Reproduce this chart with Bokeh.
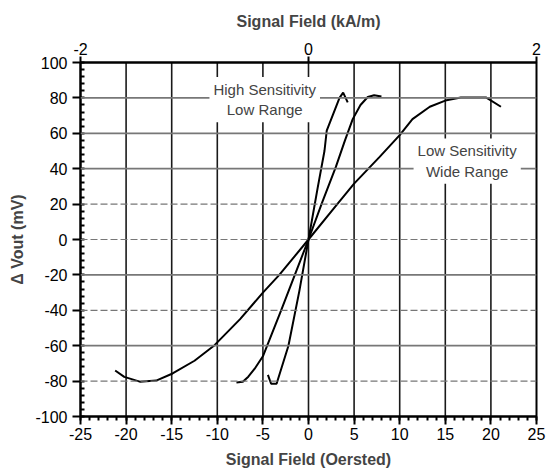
from bokeh.plotting import figure
from bokeh.models import Range1d, LinearAxis, FixedTicker, Span, Label, PrintfTickFormatter
from bokeh.embed import file_html
from bokeh.resources import INLINE

# --- data ---
high_x = [-4.45, -4.1, -3.5, -2.2, -1.0, 0.0, 1.0, 1.75, 2.0, 3.4, 3.8, 4.3]
high_y = [-76.5, -81.5, -81.5, -60.0, -29.0, 0.0, 29.0, 50.0, 61.5, 80.0, 83.0, 77.5]

med_x = [-7.9, -7.2, -6.6, -5.9, -5.0, -4.0, -3.0, -1.5, 0.0, 1.5, 3.0, 4.0, 4.85, 5.7, 6.5, 7.2, 8.0]
med_y = [-80.8, -80.4, -77.5, -73.0, -66.0, -53.0, -40.0, -20.0, 0.0, 21.0, 41.0, 56.0, 68.0, 76.0, 80.5, 81.5, 80.8]

low_x = [-21.2, -20.2, -18.5, -16.7, -14.9, -12.5, -10.3, -7.5, -5.0, -3.2, 0.0, 3.0, 5.0, 7.8, 10.0, 11.4, 13.3, 15.0, 16.7, 19.5, 21.1]
low_y = [-74.0, -77.6, -80.3, -79.7, -75.7, -68.5, -59.7, -45.0, -30.0, -20.0, 0.0, 19.0, 31.6, 46.7, 59.0, 68.0, 75.0, 78.5, 80.2, 80.2, 75.0]

x_ticks = [-25, -20, -15, -10, -5, 0, 5, 10, 15, 20, 25]
y_ticks = [-100, -80, -60, -40, -20, 0, 20, 40, 60, 80, 100]
top_ticks = [-2, 0, 2]
vgrid_vals = [-20, -15, -10, -5, 0, 5, 10, 15, 20]
hgrid_solid = [80, 60, 40, -20, -60]
hgrid_dashed = [20, 0, -40, -80]

FONT = "Liberation Sans"

p = figure(width=547, height=473, x_range=Range1d(-25, 25), y_range=Range1d(-100, 100),
           output_backend="svg", toolbar_location=None,
           min_border_left=80, min_border_right=11, min_border_top=62, min_border_bottom=57)
p.xgrid.visible = False
p.ygrid.visible = False
p.outline_line_color = "black"
p.outline_line_width = 2

# grid lines
for v in vgrid_vals:
    p.add_layout(Span(location=v, dimension="height", line_color="black",
                      line_width=1.6, line_alpha=0.9))
for v in hgrid_solid:
    p.add_layout(Span(location=v, dimension="width", line_color="#777777",
                      line_width=1.8))
for v in hgrid_dashed:
    p.add_layout(Span(location=v, dimension="width", line_color="#777777",
                      line_width=1.2, line_dash="7 3"))

# curves
for xs, ys in [(low_x, low_y), (med_x, med_y), (high_x, high_y)]:
    p.line(xs, ys, line_color="black", line_width=2)

fmt = PrintfTickFormatter(format="%d")

# bottom axis
xa = p.xaxis[0]
xa.ticker = FixedTicker(ticks=x_ticks, minor_ticks=list(range(-25, 26)))
xa.formatter = fmt
xa.axis_label = "Signal Field (Oersted)"
xa.axis_label_text_font = FONT
xa.axis_label_text_font_style = "bold"
xa.axis_label_text_font_size = "16px"
xa.axis_label_standoff = 8
xa.major_label_text_font = FONT
xa.major_label_text_font_size = "16px"
xa.major_label_text_color = "black"
xa.major_label_standoff = 3
xa.axis_line_width = 2
xa.major_tick_out = 8
xa.major_tick_in = 0
xa.minor_tick_out = 4
xa.minor_tick_in = 0
xa.major_tick_line_width = 2
xa.minor_tick_line_width = 2

# left axis
ya = p.yaxis[0]
ya.ticker = FixedTicker(ticks=y_ticks, minor_ticks=list(range(-100, 101, 4)))
ya.formatter = fmt
ya.axis_label = "\u0394 Vout (mV)"
ya.axis_label_text_font = FONT
ya.axis_label_text_font_style = "bold"
ya.axis_label_text_font_size = "16px"
ya.axis_label_standoff = 6
ya.major_label_text_font = FONT
ya.major_label_text_font_size = "16px"
ya.major_label_text_color = "black"
ya.major_label_standoff = 5
ya.axis_line_width = 2
ya.major_tick_out = 8
ya.major_tick_in = 0
ya.minor_tick_out = 0
ya.minor_tick_in = 4
ya.major_tick_line_width = 2
ya.minor_tick_line_width = 2

# top axis in kA/m
p.extra_x_ranges = {"kam": Range1d(-2, 2)}
ta = LinearAxis(x_range_name="kam", ticker=FixedTicker(ticks=top_ticks, minor_ticks=[]),
                axis_label="Signal Field (kA/m)", formatter=PrintfTickFormatter(format="%d"))
ta.axis_label_text_font = FONT
ta.axis_label_text_font_style = "bold"
ta.axis_label_text_font_size = "16px"
ta.axis_label_standoff = 10
ta.major_label_text_font = FONT
ta.major_label_text_font_size = "16px"
ta.major_label_text_color = "black"
ta.major_label_standoff = 2
ta.axis_line_width = 2
ta.major_tick_out = 6
ta.major_tick_in = 0
ta.major_tick_line_width = 2
p.add_layout(ta, "above")

# annotations
for tx, ty, txt in [(-4.8, 79, "High Sensitivity\nLow Range"),
                    (17.4, 44.3, "Low Sensitivity\nWide Range")]:
    p.add_layout(Label(x=tx, y=ty, text=txt, text_align="center", text_baseline="middle",
                       text_font=FONT, text_font_size="15px", text_line_height=1.2,
                       background_fill_color="white", padding=4))

open("out.html", "w").write(file_html(p, INLINE))
